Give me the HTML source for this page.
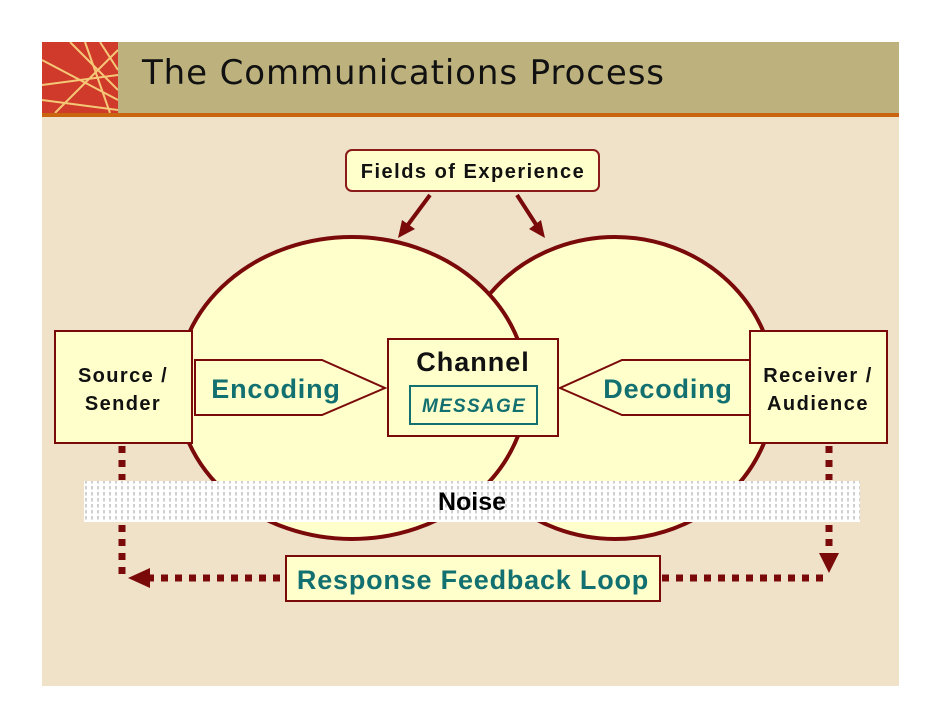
<!DOCTYPE html>
<html><head><style>
body{margin:0;background:#fff;}
svg{display:block}
text{font-family:"Liberation Sans",Arial,sans-serif;font-weight:bold}
</style></head><body>
<svg width="942" height="728" viewBox="0 0 942 728" xmlns="http://www.w3.org/2000/svg">
<defs>
<pattern id="nz" width="6" height="6" patternUnits="userSpaceOnUse">
<rect width="6" height="6" fill="#fff"/>
<line x1="2" y1="0" x2="2" y2="3.5" stroke="#888" stroke-width="0.8"/>
</pattern>
<clipPath id="lg"><rect x="42" y="42" width="76" height="71"/></clipPath>
</defs>
<rect x="42" y="42" width="857" height="644" fill="#efe2c9"/>
<rect x="42" y="42" width="857" height="71" fill="#bdb27e"/>
<rect x="42" y="113" width="857" height="4" fill="#c8650e"/>
<rect x="42" y="42" width="76" height="71" fill="#cf3a2a"/>
<g clip-path="url(#lg)" stroke="#f5c878" stroke-width="2" fill="none">
<line x1="70" y1="42" x2="118" y2="90"/><line x1="100" y1="42" x2="118" y2="70"/>
<line x1="42" y1="60" x2="118" y2="100"/><line x1="42" y1="85" x2="118" y2="75"/>
<line x1="55" y1="113" x2="118" y2="50"/><line x1="42" y1="100" x2="118" y2="110"/>
<line x1="85" y1="42" x2="110" y2="113"/>
</g>
<text x="142" y="84" font-size="34" letter-spacing="0.9" style="font-weight:normal;font-family:'DejaVu Sans',sans-serif" fill="#111">The Communications Process</text>

<ellipse cx="615" cy="388" rx="160" ry="151" fill="#ffffcc" stroke="#7a0a0a" stroke-width="4"/>
<ellipse cx="352" cy="388" rx="175" ry="151" fill="#ffffcc" stroke="#7a0a0a" stroke-width="4"/>

<rect x="346" y="150" width="253" height="41" rx="6" fill="#ffffcc" stroke="#8b1a1a" stroke-width="2"/>
<text x="473" y="178" font-size="20" letter-spacing="1.5" text-anchor="middle" fill="#111">Fields of Experience</text>
<g stroke="#7a0a0a" stroke-width="4" fill="#7a0a0a">
<line x1="430" y1="195" x2="407" y2="226"/><polygon points="398,238 402,220 415,229" stroke="none"/>
<line x1="517" y1="195" x2="537" y2="226"/><polygon points="545,238 529,229 541,220" stroke="none"/>
</g>

<rect x="84" y="481" width="776" height="41" fill="url(#nz)"/>
<text x="472" y="510" font-size="25" text-anchor="middle" fill="#000">Noise</text>

<rect x="55" y="331" width="137" height="112" fill="#ffffcc" stroke="#7a0a0a" stroke-width="2"/>
<text x="123" y="382" font-size="20" letter-spacing="1.4" text-anchor="middle" fill="#111">Source /</text>
<text x="123" y="410" font-size="20" letter-spacing="1.4" text-anchor="middle" fill="#111">Sender</text>
<rect x="750" y="331" width="137" height="112" fill="#ffffcc" stroke="#7a0a0a" stroke-width="2"/>
<text x="818" y="382" font-size="20" letter-spacing="1.5" text-anchor="middle" fill="#111">Receiver /</text>
<text x="818" y="410" font-size="20" letter-spacing="1.5" text-anchor="middle" fill="#111">Audience</text>

<polygon points="195,360 322,360 385,388 322,415 195,415" fill="#ffffcc" stroke="#7a0a0a" stroke-width="2"/>
<text x="276" y="398" font-size="27" letter-spacing="0.8" text-anchor="middle" fill="#137070">Encoding</text>
<polygon points="750,360 622,360 560,388 622,415 750,415" fill="#ffffcc" stroke="#7a0a0a" stroke-width="2"/>
<text x="668" y="398" font-size="27" letter-spacing="0.8" text-anchor="middle" fill="#137070">Decoding</text>

<rect x="388" y="339" width="170" height="97" fill="#ffffcc" stroke="#7a0a0a" stroke-width="2"/>
<text x="473" y="371" font-size="27" letter-spacing="1" text-anchor="middle" fill="#111">Channel</text>
<rect x="410" y="386" width="127" height="38" fill="#ffffcc" stroke="#137070" stroke-width="2"/>
<text x="474" y="412" font-size="19" letter-spacing="1.3" font-style="italic" text-anchor="middle" fill="#137070">MESSAGE</text>

<g stroke="#7a0a0a" stroke-width="7" fill="none" stroke-dasharray="7,7">
<line x1="122" y1="446" x2="122" y2="480"/>
<line x1="122" y1="525" x2="122" y2="575"/>
<line x1="280" y1="578" x2="150" y2="578"/>
<line x1="829" y1="446" x2="829" y2="480"/>
<line x1="829" y1="525" x2="829" y2="553"/>
<line x1="662" y1="578" x2="825" y2="578"/>
</g>
<polygon points="128,578 150,568 150,588" fill="#7a0a0a"/>
<polygon points="829,573 819,553 839,553" fill="#7a0a0a"/>

<rect x="286" y="556" width="374" height="45" fill="#ffffcc" stroke="#7a0a0a" stroke-width="2"/>
<text x="473" y="589" font-size="27" letter-spacing="0.8" text-anchor="middle" fill="#137070">Response Feedback Loop</text>
</svg>
</body></html>
